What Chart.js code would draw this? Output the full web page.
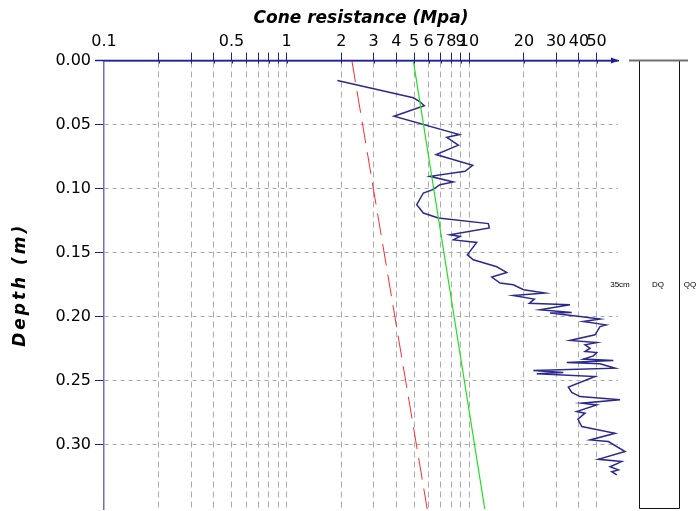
<!DOCTYPE html>
<html>
<head>
<meta charset="utf-8">
<script src="https://cdn.jsdelivr.net/npm/chart.js@4.4.0/dist/chart.umd.min.js"></script>
<style>
  html, body { margin: 0; padding: 0; background: #fff; }
  #wrap { width: 700px; height: 511px; }
</style>
</head>
<body>
<div id="wrap"><canvas id="chart"></canvas></div>
<script>
// cone penetration profile (depth in m, resistance in MPa)
const depth = [0.0156, 0.0291, 0.0318, 0.0352, 0.0435, 0.0578, 0.0600, 0.0661, 0.0734, 0.0818,
  0.0865, 0.0904, 0.0948, 0.0969, 0.1008, 0.1034, 0.1125, 0.1190, 0.1229, 0.1273,
  0.1307, 0.1360, 0.1373, 0.1400, 0.1420, 0.1516, 0.1555, 0.1610, 0.1654, 0.1690,
  0.1737, 0.1750, 0.1789, 0.1815, 0.1834, 0.1862, 0.1895, 0.1906, 0.1945, 0.1966,
  0.1971, 0.1998, 0.2018, 0.2037, 0.2063, 0.2076, 0.2141, 0.2185, 0.2201, 0.2219,
  0.2245, 0.2271, 0.2279, 0.2305, 0.2330, 0.2341, 0.2357, 0.2367, 0.2401, 0.2420,
  0.2435, 0.2445, 0.2466, 0.2549, 0.2591, 0.2623, 0.2648, 0.2674, 0.2688, 0.2740,
  0.2752, 0.2800, 0.2857, 0.2909, 0.2961, 0.2974, 0.3052, 0.3112, 0.3130, 0.3170,
  0.3195, 0.3209, 0.3234];
const resistance = [1.90, 4.95, 5.34, 5.69, 3.88, 8.85, 7.55, 8.74, 6.60, 10.48,
  9.51, 6.11, 8.20, 6.93, 6.33, 5.62, 5.17, 5.62, 6.79, 12.76,
  12.92, 7.87, 8.93, 8.20, 11.02, 9.79, 10.56, 14.19, 16.09, 13.32,
  14.79, 17.49, 19.9, 26.09, 17.49, 22.8, 21.4, 35.76, 24.49, 36.53,
  27.79, 40.57, 52.21, 42.30, 56.32, 52.21, 49.02, 35.76, 50.08, 43.21,
  46.03, 43.21, 50.08, 47.99, 42.30, 61.76, 34.30, 52.21, 63.10, 22.51,
  32.86, 23.50, 49.02, 35.0, 36.53, 40.57, 67.2, 41.46, 50.08, 38.92,
  43.21, 39.5, 41.46, 63.10, 46.03, 57.98, 71.57, 51.1, 68.65, 59.24,
  65.79, 60.5, 64.5];

// reference lines
const redDepth = [0, 0.35];
const redRes = [2.28, 5.9];
const greenDepth = [0, 0.35];
const greenRes = [4.95, 12.2];

const xTicks = [0.1, 0.2, 0.3, 0.4, 0.5, 0.6, 0.7, 0.8, 0.9, 1, 2, 3, 4, 5, 6, 7, 8, 9, 10, 20, 30, 40, 50];
const xLabels = [0.1, 0.5, 1, 2, 3, 4, 5, 6, 7, 8, 9, 10, 20, 30, 40, 50];
const yTicks = [0, 0.05, 0.10, 0.15, 0.20, 0.25, 0.30];
const sideLabels = ['35cm', 'DQ', 'QQ'];
const yTitle = 'Depth (m)';

const NAVY = '#1e1e96';
const GRID = '#ababab';
const FONT = 'DejaVu Sans';

const pts = (ys, xs) => ys.map((d, i) => ({x: xs[i], y: d}));

// axis arrow, inner tick halves, y title and the soil column box on the right
const decor = {
  id: 'decor',
  afterDraw(chart) {
    const {ctx, chartArea: a, scales: {x, y}} = chart;
    ctx.save();
    ctx.strokeStyle = NAVY;
    ctx.lineWidth = 1.5;
    ctx.beginPath();
    ctx.moveTo(a.left - 9, a.top);
    ctx.lineTo(a.right, a.top);
    ctx.stroke();
    ctx.fillStyle = NAVY;
    ctx.beginPath();
    ctx.moveTo(a.right + 1, a.top);
    ctx.lineTo(a.right - 7, a.top - 3);
    ctx.lineTo(a.right - 7, a.top + 3);
    ctx.closePath();
    ctx.fill();
    ctx.lineWidth = 1;
    xTicks.slice(1).forEach(v => {
      const px = Math.round(x.getPixelForValue(v)) + 0.5;
      ctx.beginPath();
      ctx.moveTo(px, a.top);
      ctx.lineTo(px, a.top + 3);
      ctx.stroke();
    });

    const top = y.getPixelForValue(0);
    const bot = y.getPixelForValue(0.35) - 1;
    const bl = a.right + 21.5, br = a.right + 61.5;
    ctx.strokeStyle = '#111';
    ctx.lineWidth = 1;
    ctx.beginPath();
    ctx.moveTo(bl, top);
    ctx.lineTo(bl, bot + 0.5);
    ctx.lineTo(br, bot + 0.5);
    ctx.lineTo(br, top);
    ctx.stroke();
    ctx.strokeStyle = '#707070';
    ctx.lineWidth = 2;
    ctx.beginPath();
    ctx.moveTo(a.right + 11, top);
    ctx.lineTo(a.right + 70, top);
    ctx.stroke();

    const mid = y.getPixelForValue(0.175);
    ctx.fillStyle = '#000';
    ctx.font = '8px "Liberation Sans"';
    ctx.textAlign = 'center';
    ctx.textBaseline = 'middle';
    ctx.fillText(sideLabels[0], a.right + 2, mid);
    ctx.fillText(sideLabels[1], a.right + 40, mid);
    ctx.fillText(sideLabels[2], a.right + 72, mid);

    // y axis title, letter-spaced like the original
    ctx.translate(21, (a.top + a.bottom) / 2);
    ctx.rotate(-Math.PI / 2);
    ctx.font = 'italic bold 17px "' + FONT + '"';
    if ('letterSpacing' in ctx) ctx.letterSpacing = '3px';
    ctx.fillText(yTitle, 0, 0);
    ctx.restore();
  }
};

new Chart(document.getElementById('chart'), {
  type: 'scatter',
  data: {
    datasets: [
      {
        data: pts(redDepth, redRes),
        showLine: true,
        borderColor: '#ff2b2b',
        borderWidth: 1,
        borderDash: [22, 9],
        pointRadius: 0,
        clip: false
      },
      {
        data: pts(greenDepth, greenRes),
        showLine: true,
        borderColor: '#1ee01e',
        borderWidth: 1.2,
        pointRadius: 0,
        clip: false
      },
      {
        data: pts(depth, resistance),
        showLine: true,
        borderColor: '#2a2a8e',
        borderWidth: 1.5,
        pointRadius: 0,
        tension: 0,
        clip: false
      }
    ]
  },
  options: {
    responsive: true,
    maintainAspectRatio: false,
    animation: false,
    events: [],
    layout: { padding: { left: 0, top: 0, right: 82, bottom: 2 } },
    plugins: {
      legend: { display: false },
      tooltip: { enabled: false }
    },
    scales: {
      x: {
        type: 'logarithmic',
        position: 'top',
        min: 0.1,
        max: 65.5,
        afterBuildTicks: s => { s.ticks = xTicks.map(v => ({value: v})); },
        afterFit: s => { s.height = 60.5; s.paddingLeft = 0; s.paddingRight = 0; },
        ticks: {
          autoSkip: false,
          maxRotation: 0,
          color: '#000',
          padding: 1,
          font: { family: FONT, size: 16 },
          callback: v => xLabels.includes(v) ? String(v) : ''
        },
        grid: {
          color: c => (c.tick && c.tick.value === 0.1) ? 'rgba(0,0,0,0)' : GRID,
          tickColor: c => (c.tick && c.tick.value === 0.1) ? 'rgba(0,0,0,0)' : NAVY,
          tickLength: 8,
          lineWidth: 1
        },
        border: { color: NAVY, width: 1.5, dash: [6, 4] },
        title: {
          display: true,
          text: 'Cone resistance (Mpa)',
          color: '#000',
          padding: { top: 8, bottom: 0 },
          font: { family: FONT, size: 17, weight: 'bold', style: 'italic' }
        }
      },
      y: {
        type: 'linear',
        reverse: true,
        min: 0,
        max: 0.35,
        afterBuildTicks: s => { s.ticks = yTicks.map(v => ({value: v})); },
        afterFit: s => { s.width = 104; s.paddingTop = 0; s.paddingBottom = 0; },
        ticks: {
          color: '#000',
          padding: 4,
          font: { family: FONT, size: 16 },
          callback: v => v.toFixed(2)
        },
        grid: {
          color: c => (c.tick && c.tick.value === 0) ? 'rgba(0,0,0,0)' : GRID,
          tickColor: NAVY,
          tickLength: 9,
          lineWidth: 1
        },
        border: { color: '#6e6ec8', width: 1.5, dash: [4, 4] },
        title: { display: false }
      }
    }
  },
  plugins: [decor]
});
</script>
</body>
</html>
